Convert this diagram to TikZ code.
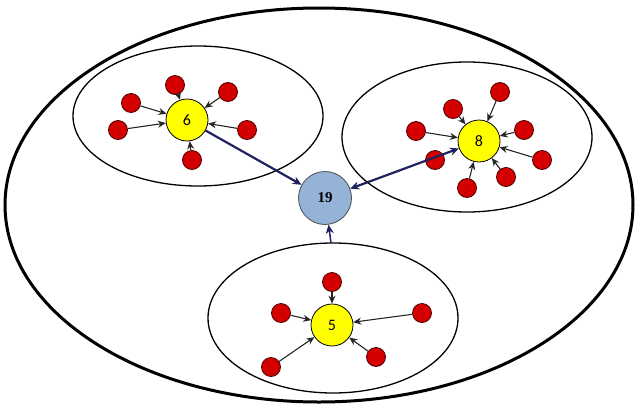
\documentclass[tikz,border=0pt]{standalone}
\usepackage{fontspec}
\setmainfont{Carlito}
\newfontfamily\numfont{Liberation Serif}
\usetikzlibrary{arrows.meta}
\definecolor{redfill}{HTML}{D40000}
\definecolor{yelfill}{HTML}{FFFF00}
\definecolor{bluefill}{HTML}{95B3D7}
\definecolor{navy}{HTML}{1F2360}
\tikzset{
  red/.style={circle,draw=black!70!red,line width=0.8pt,fill=redfill,minimum size=19pt,inner sep=0pt},
  hub/.style={circle,draw=black,line width=0.8pt,fill=yelfill,minimum size=42pt,inner sep=0pt,font=\fontsize{16}{16}\selectfont},
  top/.style={circle,draw=black!70,line width=0.8pt,fill=bluefill,minimum size=53pt,inner sep=0pt,font=\numfont\bfseries\fontsize{15}{15}\selectfont},
  grp/.style={draw=black,line width=1.3pt},
  spoke/.style={draw=black!85,line width=1.1pt,-{Stealth[length=8pt,width=7pt]}},
  link/.style={draw=navy,line width=2.2pt,-{Stealth[length=9pt,width=8pt]}}
}
\begin{document}
\begin{tikzpicture}[x=1pt,y=-1pt]
\useasboundingbox (0,0) rectangle (637,410);
\draw[line width=3pt] (319,205) ellipse [x radius=314, y radius=197];
\draw[grp] (198,116) ellipse [x radius=125, y radius=70];
\draw[grp] (467,137) ellipse [x radius=125, y radius=75];
\draw[grp] (333,318) ellipse [x radius=125, y radius=75];
\coordinate (g5top) at (331,243);
% group 6
\node[hub] (n6) at (187,120) {6};
\node[red] (a1) at (175,85) {};
\node[red] (a2) at (228,92) {};
\node[red] (a3) at (131,103) {};
\node[red] (a4) at (118,130) {};
\node[red] (a5) at (247,130) {};
\node[red] (a6) at (192,160) {};
\foreach \r in {a1,a2,a3,a4,a5,a6} \draw[spoke] (\r) -- (n6);
% group 8
\node[hub] (n8) at (479,141) {8};
\node[red] (b1) at (500,92) {};
\node[red] (b2) at (453,109) {};
\node[red] (b3) at (416,131) {};
\node[red] (b4) at (524,130) {};
\node[red] (b5) at (542,160) {};
\node[red] (b6) at (435,160) {};
\node[red] (b7) at (506,177) {};
\node[red] (b8) at (467,188) {};
\foreach \r in {b1,b2,b3,b4,b5,b7,b8} \draw[spoke] (\r) -- (n8);
% group 5
\node[hub] (n5) at (332,325) {5};
\node[red] (c1) at (332,282) {};
\node[red] (c2) at (281,313) {};
\node[red] (c3) at (422,313) {};
\node[red] (c4) at (271,367) {};
\node[red] (c5) at (376,357) {};
\foreach \r in {c1,c2,c3,c4,c5} \draw[spoke] (\r) -- (n5);
% top
\node[top] (n19) at (325,198) {19};
\draw[link] (n6) -- (n19);
\draw[link,{Stealth[length=9pt,width=8pt]}-{Stealth[length=9pt,width=8pt]}] (n19) -- (n8);
\draw[link,line width=1.5pt] (g5top) -- (n19);
\end{tikzpicture}
\end{document}
